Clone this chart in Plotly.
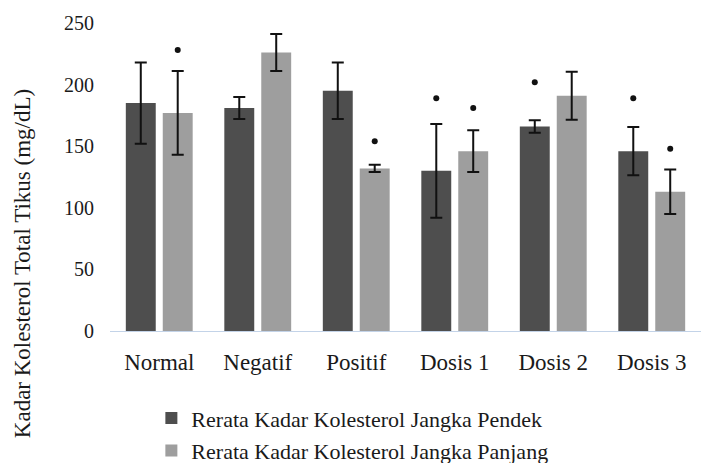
import plotly.graph_objects as go

# Treatment groups on the x axis
groups = ["Normal", "Negatif", "Positif", "Dosis 1", "Dosis 2", "Dosis 3"]

# Mean total cholesterol (mg/dL) and standard deviation per group
short_term = [185, 181, 195, 130, 166, 146]
short_sd = [33, 9, 23, 38, 5, 19.5]
long_term = [177, 226, 132, 146, 191, 113]
long_sd = [34, 15, 3, 17, 19.5, 18]

# Height of the significance marker above each bar (None = no marker)
short_sig = [None, None, None, 189, 202, 189]
long_sig = [228, None, 154, 181, None, 148]

y_ticks = [0, 50, 100, 150, 200, 250]

series_names = [
    "Rerata Kadar Kolesterol Jangka Pendek",
    "Rerata Kadar Kolesterol Jangka Panjang",
]

FONT = "Liberation Serif"
DARK = "#4e4e4e"
LIGHT = "#9e9e9e"

fig = go.Figure()

for name, vals, sd, color, grp in [
    (series_names[0], short_term, short_sd, DARK, "a"),
    (series_names[1], long_term, long_sd, LIGHT, "b"),
]:
    fig.add_trace(go.Bar(
        x=groups, y=vals, name=name,
        marker=dict(color=color, line=dict(width=0)),
        error_y=dict(type="data", array=sd, visible=True,
                     color="#111111", thickness=2, width=6),
        offsetgroup=grp, legendgroup=grp,
    ))

for sig, grp in [(short_sig, "a"), (long_sig, "b")]:
    fig.add_trace(go.Scatter(
        x=groups, y=sig, mode="markers",
        marker=dict(color="#111111", size=6, symbol="circle"),
        offsetgroup=grp, showlegend=False, hoverinfo="skip",
    ))

fig.update_layout(
    width=721, height=463,
    margin=dict(l=110, r=20, t=23, b=132, autoexpand=False),
    paper_bgcolor="white", plot_bgcolor="white",
    barmode="group", bargap=0.25, bargroupgap=0.19,
    scattermode="group", scattergap=0.25,
    font=dict(family=FONT, color="#1a1a1a", size=22),
    showlegend=True,
    legend=dict(
        orientation="v", x=0.07, xanchor="left",
        y=-0.215, yanchor="top",
        font=dict(family=FONT, size=22, color="#1a1a1a"),
        tracegroupgap=1, bgcolor="rgba(0,0,0,0)",
    ),
    xaxis=dict(
        showgrid=False, showline=True, linecolor="#c3d3e8", linewidth=1,
        ticks="", tickfont=dict(size=23), ticklabelstandoff=10,
    ),
    yaxis=dict(
        range=[0, 250], tickvals=y_ticks, showgrid=False, zeroline=False,
        showline=False, ticks="", tickfont=dict(size=20),
        ticklabelstandoff=15,
    ),
    annotations=[dict(
        text="Kadar Kolesterol Total Tikus (mg/dL)",
        xref="paper", yref="paper", x=-0.149, y=0.22,
        xanchor="center", yanchor="middle", textangle=-90,
        showarrow=False, font=dict(family=FONT, size=23, color="#1a1a1a"),
    )],
)

fig.write_html("out.html")
